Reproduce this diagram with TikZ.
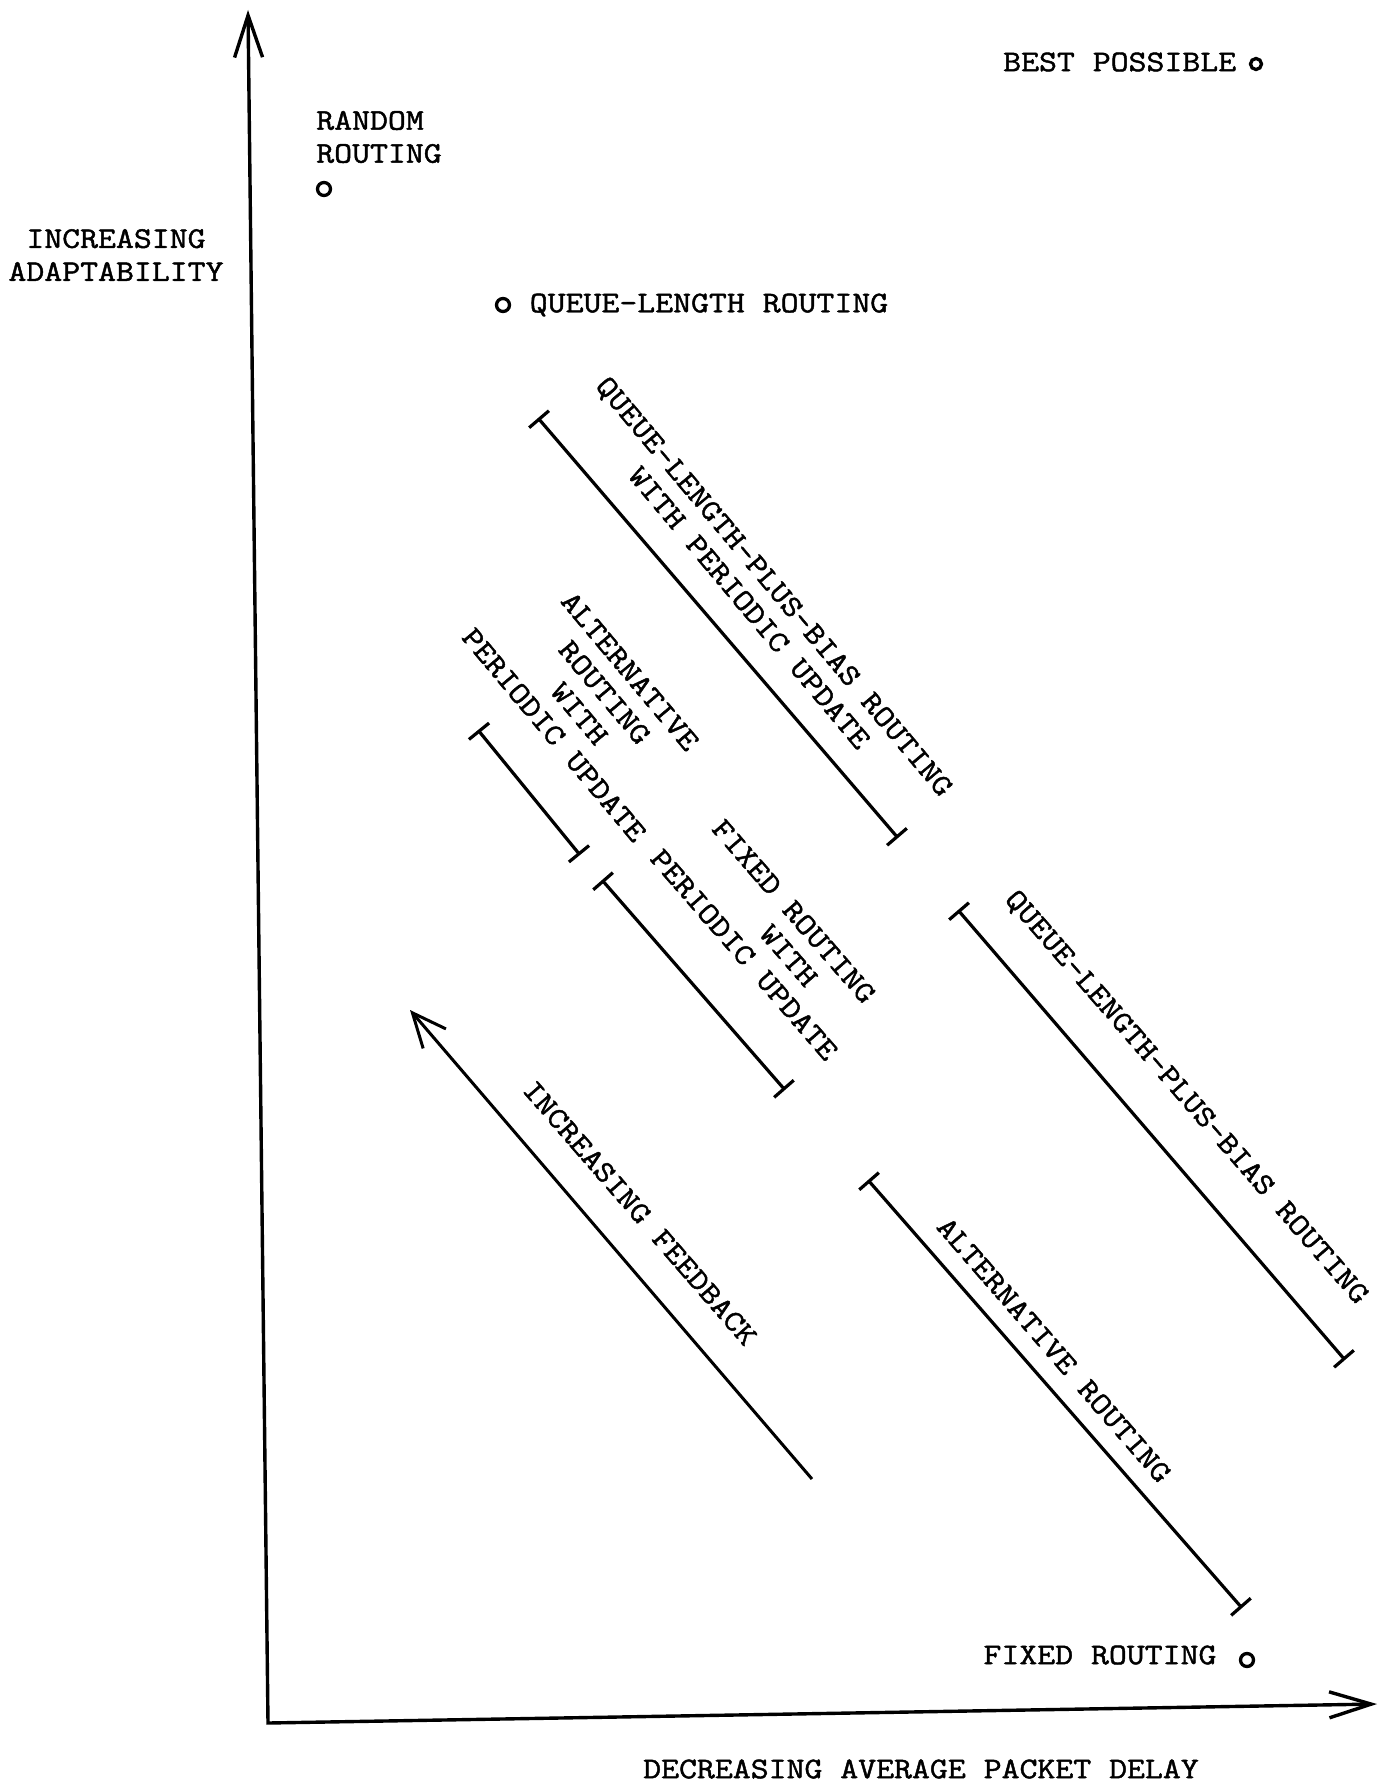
\documentclass[tikz,border=0pt]{standalone}
\usepackage{fontspec}
\newfontfamily\typew[FakeBold=1.5,FakeStretch=1.16]{Latin Modern Mono}
\usetikzlibrary{arrows.meta}
\begin{document}
\begin{tikzpicture}[x=1pt,y=-1pt,
  txt/.style={font=\typew\fontsize{30}{33}\selectfont, inner sep=0pt, align=center},
  dot/.style={circle, draw, line width=3.3pt, minimum size=13pt, inner sep=0pt},
  axes/.style={line width=3.4pt, line join=miter,
    {Straight Barb[length=42pt,width=28pt]}-{Straight Barb[length=42pt,width=26pt]}},
  spanbar/.style={line width=3.2pt, {Bar[width=26pt]}-{Bar[width=26pt]}},
  trend/.style={line width=3pt, -{Straight Barb[length=34pt,width=30pt]}},
]
\useasboundingbox (0,0) rectangle (1385,1788);
\fill[white] (0,0) rectangle (1385,1788);

% axes
\coordinate (O) at (268,1723);
\coordinate (ytip) at (248,10);
\coordinate (xtip) at (1377,1704);
\draw[axes] (ytip) -- (O) -- (xtip);

% axis titles
\node[txt] (ytitle) at (116,255) {INCREASING\\ADAPTABILITY};
\node[txt] (xtitle) at (921,1769) {DECREASING AVERAGE PACKET DELAY};

% single points
\node[txt, align=left] (rand) at (379,137) {RANDOM\\ROUTING};
\node[dot] (randdot) at (324,189) {};
\node[txt, anchor=west] (best) at (1003,62) {BEST POSSIBLE};
\node[dot, minimum size=11pt] (bestdot) at (1256,64) {};
\node[dot] (qldot) at (503,305) {};
\node[txt] (ql) at (709,305) {QUEUE-LENGTH ROUTING};
\node[txt] (fixed) at (1100,1655) {FIXED ROUTING};
\node[dot] (fixeddot) at (1247,1660) {};

% ranges
\node[txt, rotate=-50] (lblA) at (762,597) {QUEUE-LENGTH-PLUS-BIAS ROUTING\\WITH PERIODIC UPDATE};
\coordinate (a1) at (538,418); \coordinate (a2) at (898,838);
\draw[spanbar] (a1) -- (a2);

\node[txt, rotate=-50] (lblB) at (592,703) {ALTERNATIVE\\ROUTING\\WITH\\PERIODIC UPDATE};
\coordinate (b1) at (478,730); \coordinate (b2) at (580,855);
\draw[spanbar] (b1) -- (b2);

\node[txt, rotate=-49] (lblC) at (769,933) {FIXED ROUTING\\\hspace*{2em}WITH\\PERIODIC UPDATE};
\coordinate (c1) at (602,880); \coordinate (c2) at (785,1090);
\draw[spanbar] (c1) -- (c2);

\node[txt, rotate=-49] (lblD) at (1186,1098) {QUEUE-LENGTH-PLUS-BIAS ROUTING};
\coordinate (d1) at (958,910); \coordinate (d2) at (1345,1360);
\draw[spanbar] (d1) -- (d2);

\node[txt, rotate=-49] (lblE) at (1054,1350) {ALTERNATIVE ROUTING};
\coordinate (e1) at (868,1180); \coordinate (e2) at (1242,1608);
\draw[spanbar] (e1) -- (e2);

% feedback trend
\node[txt, rotate=-49] (lblF) at (640,1213) {INCREASING FEEDBACK};
\coordinate (f1) at (812,1479); \coordinate (f2) at (410,1010);
\draw[trend] (f1) -- (f2);
\end{tikzpicture}
\end{document}
